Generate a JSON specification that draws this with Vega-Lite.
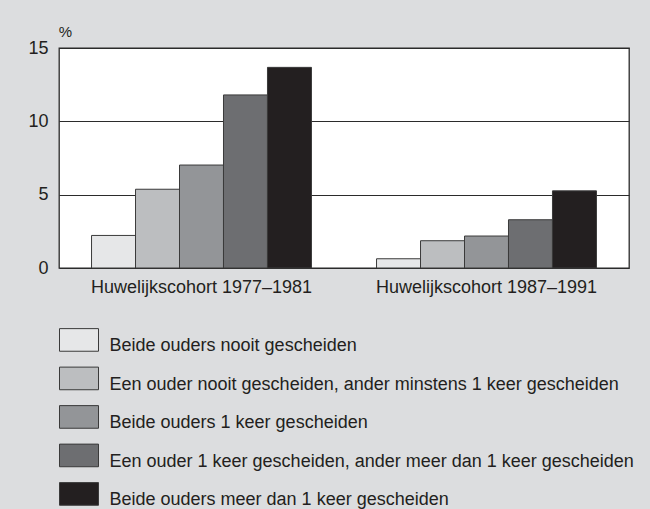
{
  "$schema": "https://vega.github.io/schema/vega-lite/v6.json",
  "autosize": "none",
  "width": 570,
  "height": 220,
  "padding": {"left": 59, "top": 48, "right": 21, "bottom": 241},
  "background": "#dcdddf",
  "config": {
    "font": "Liberation Sans",
    "view": {"fill": "white", "stroke": "#2b2b2b", "strokeWidth": 1.3}
  },
  "data": {
    "values": [
      {"cohort": "Huwelijkscohort 1977–1981", "cat": "Beide ouders nooit gescheiden", "pct": 2.22},
      {"cohort": "Huwelijkscohort 1977–1981", "cat": "Een ouder nooit gescheiden, ander minstens 1 keer gescheiden", "pct": 5.37},
      {"cohort": "Huwelijkscohort 1977–1981", "cat": "Beide ouders 1 keer gescheiden", "pct": 7.02},
      {"cohort": "Huwelijkscohort 1977–1981", "cat": "Een ouder 1 keer gescheiden, ander meer dan 1 keer gescheiden", "pct": 11.8},
      {"cohort": "Huwelijkscohort 1977–1981", "cat": "Beide ouders meer dan 1 keer gescheiden", "pct": 13.68},
      {"cohort": "Huwelijkscohort 1987–1991", "cat": "Beide ouders nooit gescheiden", "pct": 0.63},
      {"cohort": "Huwelijkscohort 1987–1991", "cat": "Een ouder nooit gescheiden, ander minstens 1 keer gescheiden", "pct": 1.86},
      {"cohort": "Huwelijkscohort 1987–1991", "cat": "Beide ouders 1 keer gescheiden", "pct": 2.18},
      {"cohort": "Huwelijkscohort 1987–1991", "cat": "Een ouder 1 keer gescheiden, ander meer dan 1 keer gescheiden", "pct": 3.29},
      {"cohort": "Huwelijkscohort 1987–1991", "cat": "Beide ouders meer dan 1 keer gescheiden", "pct": 5.26}
    ]
  },
  "mark": {"type": "bar", "stroke": "#3a3a3a", "strokeWidth": 1},
  "encoding": {
    "x": {
      "field": "cohort", "type": "nominal", "sort": null,
      "scale": {"paddingInner": 0, "paddingOuter": 0},
      "axis": {"title": null, "labelAngle": 0, "labelFontSize": 18, "labelColor": "#231f20", "labelPadding": 10, "labelLimit": 0, "ticks": false, "tickSize": 0, "domain": false}
    },
    "xOffset": {
      "field": "cat", "type": "nominal", "sort": null,
      "scale": {"paddingInner": 0, "paddingOuter": 0.74}
    },
    "y": {
      "field": "pct", "type": "quantitative",
      "scale": {"domain": [0, 15], "nice": false},
      "axis": {
        "values": [0, 5, 10, 15], "title": "%", "titleAngle": 0, "titleX": 6, "titleY": -17,
        "titleAlign": "center", "titleBaseline": "middle", "titleFontSize": 15, "titleFontWeight": "normal", "titleColor": "#231f20",
        "labelFontSize": 18, "labelColor": "#231f20", "labelPadding": 11, "ticks": false, "tickSize": 0,
        "domain": false, "grid": true, "gridColor": "#2b2b2b", "gridWidth": 1, "gridOpacity": 1
      }
    },
    "fill": {
      "field": "cat", "type": "nominal",
      "scale": {
        "domain": [
          "Beide ouders nooit gescheiden",
          "Een ouder nooit gescheiden, ander minstens 1 keer gescheiden",
          "Beide ouders 1 keer gescheiden",
          "Een ouder 1 keer gescheiden, ander meer dan 1 keer gescheiden",
          "Beide ouders meer dan 1 keer gescheiden"
        ],
        "range": ["#e6e7e8", "#bcbec0", "#939598", "#6d6e71", "#231f20"]
      },
      "legend": {
        "title": null, "orient": "none", "legendX": 0, "legendY": 269, "padding": 0,
        "symbolType": "M-1,-0.43H1V0.73H-1Z", "symbolSize": 1521,
        "symbolStrokeColor": "#3a3a3a", "symbolStrokeWidth": 1, "symbolOpacity": 1,
        "labelFontSize": 18, "labelColor": "#231f20", "labelOffset": 10.5, "labelBaseline": "top",
        "labelLimit": 600, "rowPadding": 0.5
      }
    }
  }
}
